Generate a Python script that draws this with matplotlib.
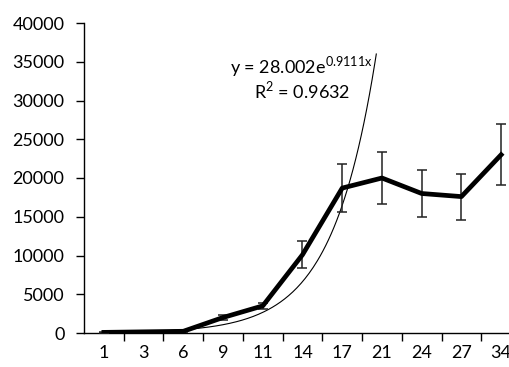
import numpy as np
import matplotlib
matplotlib.use("Agg")
import matplotlib.pyplot as plt
from matplotlib.ticker import FixedLocator, NullFormatter

plt.rcParams['font.family'] = ['Lato', 'DejaVu Sans']

# data
days = ["1", "3", "6", "9", "11", "14", "17", "21", "24", "27", "34"]
means = [80, 150, 220, 2000, 3500, 10100, 18700, 20000, 18000, 17600, 23000]
errors = [40, 60, 80, 300, 400, 1750, 3150, 3400, 3050, 2970, 3950]

# exponential trendline y = a*e^(b*x), x = category index
trend_a = 28.002
trend_b = 0.9111
trend_top = 36000

fig = plt.figure(figsize=(5.10, 3.67), dpi=100)
ax = fig.add_axes([84 / 510, 34 / 367, 437 / 510, 310 / 367])

x = np.arange(1, len(days) + 1)

# trendline
x_end = np.log(trend_top / trend_a) / trend_b
xt = np.linspace(1, x_end, 200)
ax.plot(xt, trend_a * np.exp(trend_b * xt), color='black', lw=0.8, zorder=2)

# data with error bars
ax.errorbar(x, means, yerr=errors, color='black', lw=3.4, ecolor='#222222',
            elinewidth=1.1, capsize=3.5, capthick=1.1, zorder=3)

ax.set_xlim(0.5, len(days) + 0.5)
ax.set_ylim(0, 40000)
ax.set_yticks(range(0, 40001, 5000))

# category axis: ticks between categories, labels at centers
ax.xaxis.set_major_locator(FixedLocator(np.arange(1.5, len(days) + 1, 1)))
ax.xaxis.set_major_formatter(NullFormatter())
ax.xaxis.set_minor_locator(FixedLocator(x))
ax.set_xticklabels(days, minor=True)
ax.tick_params(axis='x', which='major', direction='out', length=6, width=1)
ax.tick_params(axis='x', which='minor', length=0, pad=9, labelsize=13)
ax.tick_params(axis='y', direction='out', length=6, width=1, labelsize=13, pad=8)

for s in ['top', 'right']:
    ax.spines[s].set_visible(False)
for s in ['left', 'bottom']:
    ax.spines[s].set_linewidth(1)

fig.text(230 / 510, 1 - 67 / 367, r"y = 28.002e$^{\mathregular{0.9111x}}$",
         fontsize=13, va='center', ha='left')
fig.text(254 / 510, 1 - 90 / 367, r"R$^{\mathregular{2}}$ = 0.9632",
         fontsize=13, va='center', ha='left')

fig.savefig("out.png", dpi=100)
